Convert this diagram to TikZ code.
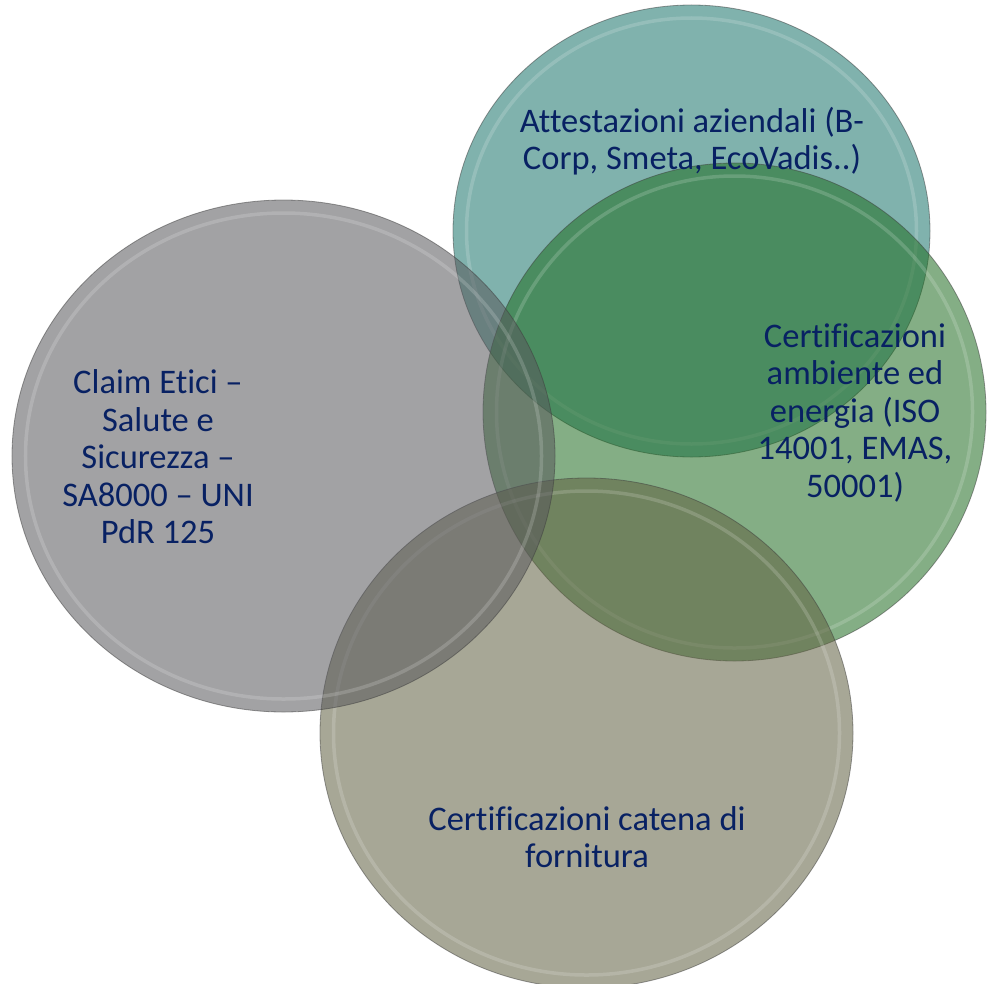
\documentclass[tikz,border=0pt]{standalone}
\usepackage{fontspec}
\setmainfont{Carlito}[Ligatures=NoCommon]
\usetikzlibrary{positioning}
\definecolor{txtblue}{HTML}{082163}
\definecolor{cgray}{RGB}{87,87,91}
\definecolor{cteal}{RGB}{24,115,107}
\definecolor{cgreen}{RGB}{31,109,33}
\definecolor{colive}{RGB}{96,96,64}
\definecolor{rimdark}{RGB}{60,60,60}
\tikzset{
  bubble/.style={fill=#1, fill opacity=0.55, draw=rimdark, draw opacity=0.5, line width=0.8bp},
  rim/.style={draw=white, draw opacity=0.17, line width=3.5bp},
  label/.style={text=txtblue, align=center, font=\fontsize{34.5bp}{37.5bp}\selectfont, inner sep=0pt}
}
\begin{document}
\begin{tikzpicture}[x=1bp,y=-1bp]
\useasboundingbox (0,0) rectangle (987,984);
\fill[white] (0,0) rectangle (987,984);
% teal (top)
\path[bubble=cteal] (691.5,231) ellipse [x radius=238.5bp, y radius=226bp];
\path[rim] (691.5,231) ellipse [x radius=225bp, y radius=213bp];
% green (right)
\path[bubble=cgreen] (734.5,412) ellipse [x radius=251.5bp, y radius=249bp];
\path[rim] (734.5,412) ellipse [x radius=238bp, y radius=236bp];
% olive (bottom)
\path[bubble=colive] (586.5,733) ellipse [x radius=266.5bp, y radius=255bp];
\path[rim] (586.5,733) ellipse [x radius=253bp, y radius=242bp];
% gray (left)
\path[bubble=cgray] (283.5,456) ellipse [x radius=271.5bp, y radius=256bp];
\path[rim] (283.5,456) ellipse [x radius=258bp, y radius=243bp];
% labels
\node[label] (att) at (692,141) {Attestazioni aziendali (B-\\Corp, Smeta, EcoVadis..)};
\node[label] (amb) at (855,413) {Certificazioni\\ambiente ed\\energia (ISO\\14001, EMAS,\\50001)};
\node[label] (cat) at (587,837) {Certificazioni catena di\\fornitura};
\node[label] (eti) at (158,457) {Claim Etici –\\Salute e\\Sicurezza –\\SA8000 – UNI\\PdR 125};
\end{tikzpicture}
\end{document}
